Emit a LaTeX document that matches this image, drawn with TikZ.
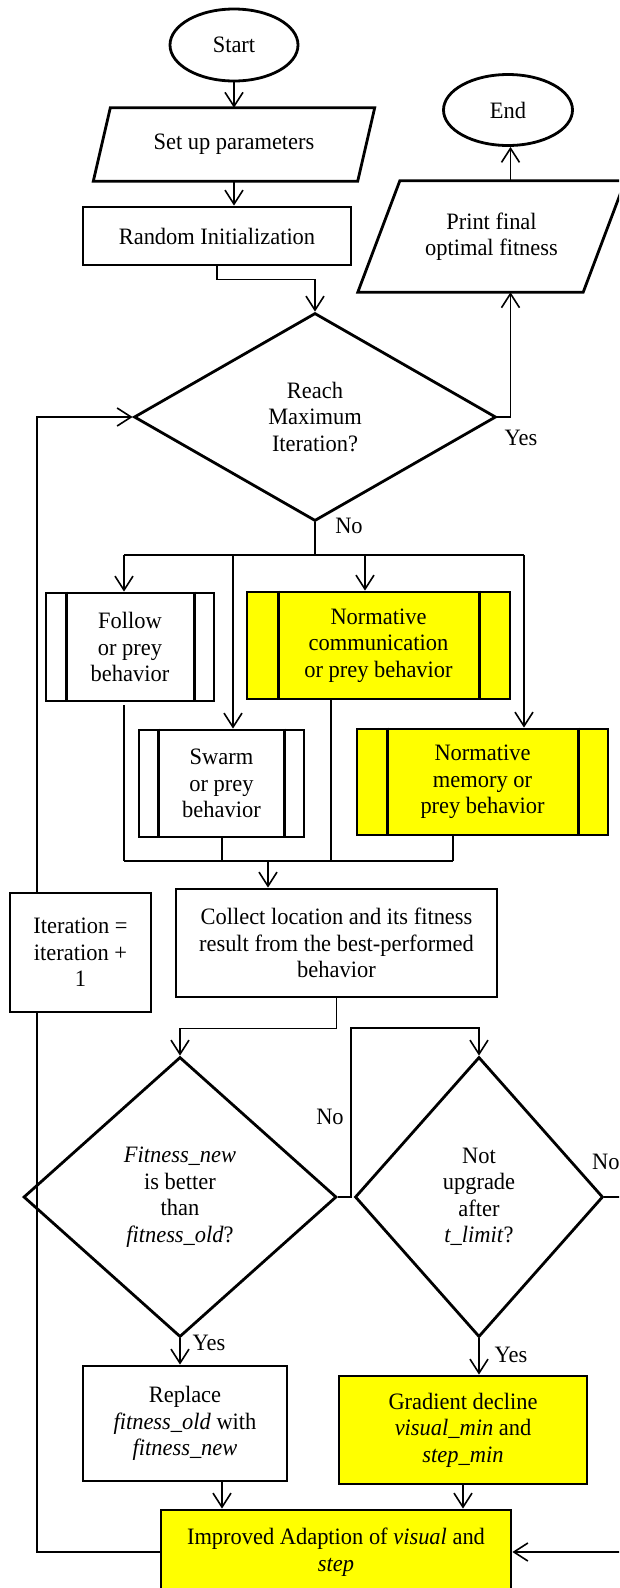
\documentclass[tikz,border=0pt]{standalone}
\usepackage{fontspec}
\setmainfont[FakeStretch=0.955]{Liberation Serif}
\usetikzlibrary{shapes.geometric,arrows.meta,calc}
\definecolor{yel}{HTML}{FFFF00}
\begin{document}
\begin{tikzpicture}[x=1pt,y=-1pt,
  txt/.style={font=\fontsize{23.5}{26.5}\selectfont, align=center, inner sep=0pt},
  shp/.style={draw, line width=2.8pt},
  box/.style={txt, shp, rectangle},
  ell/.style={txt, shp, ellipse},
  dia/.style={txt, shp, diamond},
  yfill/.style={fill=yel},
  con/.style={line width=1.6pt},
  arr/.style={-{Straight Barb[length=14pt,width=18pt,line width=1.6pt]}},
  lbl/.style={font=\fontsize{23.5}{26.5}\selectfont, inner sep=0pt}
]
\useasboundingbox (0,0) rectangle (619,1588);
\clip (0,0) rectangle (619,1588);
\fill[white] (0,0) rectangle (619,1588);

% ---------- nodes ----------
\node[ell, minimum width=128, minimum height=72] (start) at (234,45) {Start};
\node[ell, minimum width=129, minimum height=71] (end) at (508,110) {End};
\node[txt, minimum width=264, minimum height=73] (param) at (234,144.5) {Set up parameters};
\draw[shp] ([xshift=8.5pt]param.north west) -- ([xshift=8.5pt]param.north east)
  -- ([xshift=-8.5pt]param.south east) -- ([xshift=-8.5pt]param.south west) -- cycle;
\node[box, minimum width=268, minimum height=58] (ri) at (217,236) {Random Initialization};
\node[txt, minimum width=225, minimum height=111] (print) at (491.5,236.5) {Print final\\optimal fitness};
\draw[shp] ([xshift=21pt]print.north west) -- ([xshift=21pt]print.north east)
  -- ([xshift=-21pt]print.south east) -- ([xshift=-21pt]print.south west) -- cycle;
\node[dia, minimum width=362, minimum height=208] (reach) at (315,417) {Reach\\Maximum\\Iteration?};

\node[box, minimum width=168, minimum height=108] (follow) at (130,647) {Follow\\or prey\\behavior};
\draw[shp] ([xshift=22pt]follow.north west) -- ([xshift=22pt]follow.south west);
\draw[shp] ([xshift=-21pt]follow.north east) -- ([xshift=-21pt]follow.south east);

\node[box, minimum width=165, minimum height=107] (swarm) at (221.5,783.5) {Swarm\\or prey\\behavior};
\draw[shp] ([xshift=21pt]swarm.north west) -- ([xshift=21pt]swarm.south west);
\draw[shp] ([xshift=-21pt]swarm.north east) -- ([xshift=-21pt]swarm.south east);

\node[box, yfill, minimum width=263, minimum height=107] (normc) at (378.5,645.5) {Normative\\communication\\or prey behavior};
\draw[shp] ([xshift=33pt]normc.north west) -- ([xshift=33pt]normc.south west);
\draw[shp] ([xshift=-32pt]normc.north east) -- ([xshift=-32pt]normc.south east);

\node[box, yfill, minimum width=251, minimum height=106] (normm) at (482.5,782) {Normative\\memory or\\prey behavior};
\draw[shp] ([xshift=32pt]normm.north west) -- ([xshift=32pt]normm.south west);
\draw[shp] ([xshift=-31pt]normm.north east) -- ([xshift=-31pt]normm.south east);

\node[box, minimum width=321, minimum height=108] (collect) at (336.5,943) {Collect location and its fitness\\result from the best-performed\\behavior};
\node[box, minimum width=141, minimum height=119] (iter) at (80.5,952.5) {Iteration =\\iteration +\\1};

\node[dia, minimum width=313, minimum height=280] (fit) at (180,1197) {\textit{Fitness\_new}\\is better\\than\\\textit{fitness\_old}?};
\node[dia, minimum width=248, minimum height=280] (upg) at (479,1197) {Not\\upgrade\\after\\\textit{t\_limit}?};

\node[box, minimum width=204, minimum height=115] (replace) at (185,1423.5) {Replace\\\textit{fitness\_old} with\\\textit{fitness\_new}};
\node[box, yfill, minimum width=248, minimum height=108] (grad) at (463,1430) {Gradient decline\\\textit{visual\_min} and\\\textit{step\_min}};
\node[box, yfill, minimum width=350, minimum height=84] (improved) at (336,1552) {Improved Adaption of \textit{visual} and\\\textit{step}};

% ---------- coordinates ----------
\coordinate (lx) at (37,417);
\coordinate (rx) at (650,1197);
\coordinate (b1) at (124,555);
\coordinate (b2) at (233,555);
\coordinate (b3) at (365,555);
\coordinate (b4) at (524,555);
\coordinate (m1) at (124,861);
\coordinate (m2) at (222,861);
\coordinate (m3) at (331,861);
\coordinate (m4) at (453,861);
\coordinate (mc) at (268,861);

% ---------- connectors ----------
\draw[con,arr] (start.south) -- (param.north);
\draw[con,arr] (param.south) -- (param.south |- ri.north);
\draw[con,arr] (ri.south) -- ++(0,13) -| (reach.north);
\draw[con,arr] (reach.east) -| ([xshift=19pt]print.south);
\draw[con,arr] ([xshift=19pt]print.north) -- ([xshift=19pt]print.north |- end.south);

\draw[con] (reach.south) -- (reach.south |- b1);
\draw[con] (b1) -- (b4);
\draw[con,arr] (b1) -- (b1 |- follow.north);
\draw[con,arr] (b2) -- (b2 |- swarm.north);
\draw[con,arr] (b3) -- (b3 |- normc.north);
\draw[con,arr] (b4) -- (b4 |- normm.north);

\draw[con] ([yshift=-3pt]follow.south -| m1) -- (m1);
\draw[con] (swarm.south -| m2) -- (m2);
\draw[con] (normc.south -| m3) -- (m3);
\draw[con] (normm.south -| m4) -- (m4);
\draw[con] (m1) -- (m4);
\draw[con,arr] (mc) -- (mc |- collect.north);

\draw[con,arr] (collect.south) -- ++(0,30) -| (fit.north);
\draw[con,arr] (fit.east) -- ++(13,0) -- ++(0,-169) -| (upg.north);
\draw[con,arr] (fit.south) -- (fit.south |- replace.north);
\draw[con,arr] (upg.south) -- (upg.south |- grad.north);
\draw[con,arr] ([xshift=37pt]replace.south) -- ([xshift=37pt]replace.south |- improved.north);
\draw[con,arr] (grad.south) -- (grad.south |- improved.north);
\draw[con,arr] (upg.east) -- (rx) |- (improved.east);
\draw[con] (improved.west) -| (iter.south -| lx);
\draw[con,arr] (iter.north -| lx) |- (reach.west);

% ---------- labels ----------
\node[lbl] (yes1) at (521,438) {Yes};
\node[lbl] (no1) at (349,526) {No};
\node[lbl] (no2) at (330,1117) {No};
\node[lbl, anchor=west] (no3) at (592,1162) {No};
\node[lbl] (yes2) at (209,1343) {Yes};
\node[lbl] (yes3) at (511,1355) {Yes};
\end{tikzpicture}
\end{document}
